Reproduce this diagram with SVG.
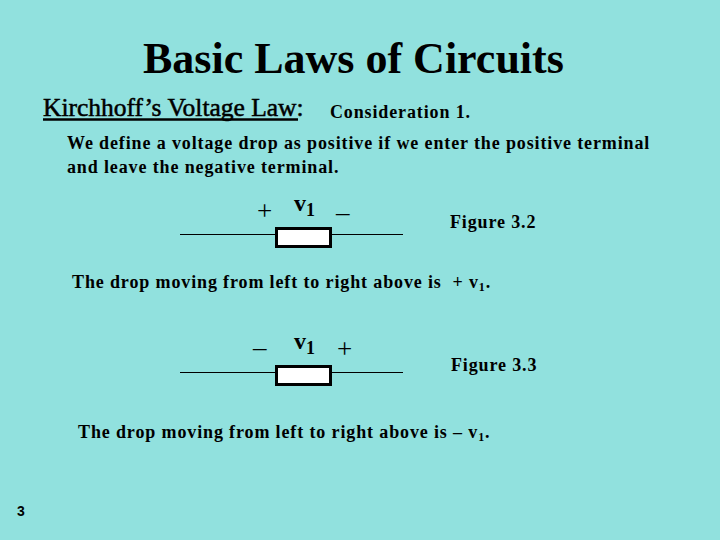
<svg xmlns="http://www.w3.org/2000/svg" width="720" height="540" viewBox="0 0 720 540">
<style>
text{font-family:"Liberation Serif","Times New Roman",serif;fill:#000;font-weight:bold;white-space:pre}
.b{font-size:18px;letter-spacing:.87px}
.n{font-weight:normal}
.w{stroke:#000;stroke-width:1;fill:none}
.r{fill:#fff;stroke:#000;stroke-width:3}
.s{font-size:27px}
.v{font-size:24px}
.h{font-size:25.500px;font-weight:normal;stroke:#000;stroke-width:.5px}
</style>
<rect width="720" height="540" fill="#91e1de"/>
<text x="143" y="73" font-size="44">Basic Laws of Circuits</text>
<text x="43" y="116" class="h">Kirchhoff’s Voltage Law:</text>
<path d="M43 119.500H298" class="w" style="stroke-width:2.500"/>
<text x="330" y="118" class="b">Consideration 1.</text>
<text x="67" y="149" class="b">We define a voltage drop as positive if we enter the positive terminal</text>
<text x="67" y="173" class="b">and leave the negative terminal.</text>
<g id="connectors">
<path d="M180 234.500H276M330 234.500H403M180 372.500H276M330 372.500H403" class="w"/>
</g>
<g id="r1"><rect x="276.500" y="228.500" width="54" height="18" class="r"/></g>
<g id="r2"><rect x="276.500" y="366.500" width="54" height="18" class="r"/></g>
<text x="257" y="220" class="n s">+</text>
<text x="294" y="211" class="v">v</text><text x="306" y="216" font-size="18">1</text>
<text x="336" y="221" class="n s">–</text>
<text x="450" y="228" class="b">Figure 3.2</text>
<text x="72" y="288" class="b">The drop moving from left to right above is  + v<tspan font-size="12" dy="3">1</tspan><tspan dy="-3">.</tspan></text>
<text x="253" y="356" class="n s">–</text>
<text x="294" y="349" class="v">v</text><text x="306" y="354" font-size="18">1</text>
<text x="337" y="358" class="n s">+</text>
<text x="451" y="371" class="b">Figure 3.3</text>
<text x="78" y="438" class="b">The drop moving from left to right above is – v<tspan font-size="12" dy="3">1</tspan><tspan dy="-3">.</tspan></text>
<text x="17" y="516" font-size="14" style="font-family:'Liberation Sans',Arial,sans-serif">3</text>
</svg>
